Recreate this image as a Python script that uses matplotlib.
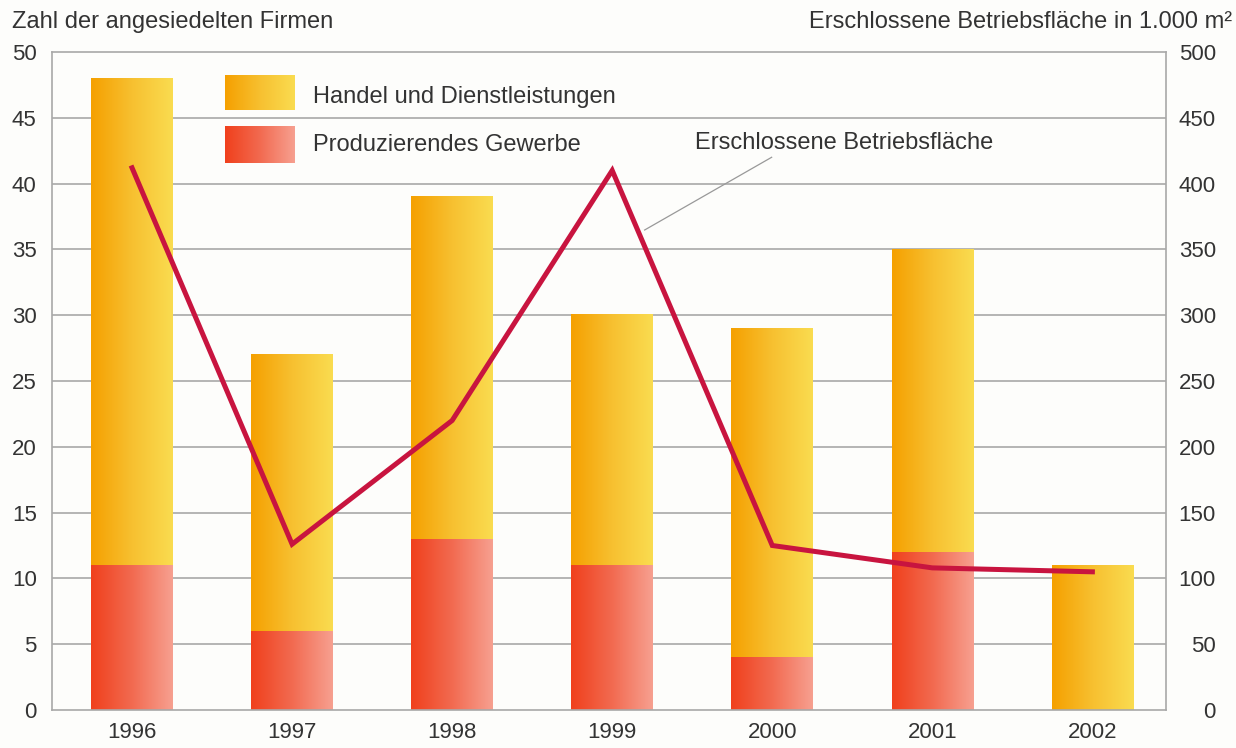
import numpy as np
import matplotlib
matplotlib.use("Agg")
import matplotlib.pyplot as plt
from matplotlib.colors import LinearSegmentedColormap
from matplotlib.lines import Line2D

plt.rcParams['font.family'] = ['Liberation Sans', 'DejaVu Sans']

years = ['1996', '1997', '1998', '1999', '2000', '2001', '2002']
produzierend = [11, 6, 13, 11, 4, 12, 0]
handel = [37, 21, 26, 19, 25, 23, 11]
flaeche = [412, 126, 220, 410, 125, 108, 105]

yticks_left = [0, 5, 10, 15, 20, 25, 30, 35, 40, 45, 50]
yticks_right = [0, 50, 100, 150, 200, 250, 300, 350, 400, 450, 500]

cm_yellow = LinearSegmentedColormap.from_list('y', ['#f5a000', '#f7c030', '#fadc50'])
cm_red = LinearSegmentedColormap.from_list('r', ['#f0401c', '#f26a50', '#f7a090'])
grad = np.linspace(0, 1, 256).reshape(1, -1)

fig = plt.figure(figsize=(12.36, 7.48), dpi=100)
fig.patch.set_facecolor('#fdfdfb')
ax = fig.add_axes([52/1236, 38/748, 1114/1236, 658/748])
ax.set_facecolor('#fdfdfb')

x = np.arange(len(years))
w = 0.51
for i in range(len(years)):
    if produzierend[i] > 0:
        ax.imshow(grad, cmap=cm_red, aspect='auto', zorder=2,
                  extent=[x[i] - w/2, x[i] + w/2, 0, produzierend[i]])
    ax.imshow(grad, cmap=cm_yellow, aspect='auto', zorder=2,
              extent=[x[i] - w/2, x[i] + w/2, produzierend[i], produzierend[i] + handel[i]])

ax.set_xlim(-0.5, 6.46)
ax.set_ylim(0, 50)
ax.set_yticks(yticks_left)
ax.set_xticks(x)
ax.set_xticklabels(years)
for yv in yticks_left[1:-1]:
    ax.axhline(yv, color='#a8a8a8', lw=1.2, zorder=1)
for s in ax.spines.values():
    s.set_color('#a8a8a8')
    s.set_linewidth(1.2)
ax.tick_params(axis='both', length=0, labelsize=16, colors='#333333')
ax.tick_params(axis='x', pad=9)
ax.tick_params(axis='y', pad=11)

ax2 = ax.twinx()
ax2.set_ylim(0, 500)
ax2.set_yticks(yticks_right)
ax2.tick_params(axis='y', length=0, labelsize=16, colors='#333333', pad=36)
for lab in ax2.get_yticklabels():
    lab.set_horizontalalignment('right')
for s in ax2.spines.values():
    s.set_visible(False)
ax2.plot(x, flaeche, color='#c8143f', lw=3.6, zorder=5, solid_joinstyle='miter')

# legend boxes
ax.imshow(grad, cmap=cm_yellow, aspect='auto', zorder=3, transform=ax.transAxes,
          extent=[0.1553, 0.2181, 0.912, 0.965])
ax.imshow(grad, cmap=cm_red, aspect='auto', zorder=3, transform=ax.transAxes,
          extent=[0.1553, 0.2181, 0.831, 0.886])
ax.set_xlim(-0.5, 6.46)
ax.set_ylim(0, 50)
ax.text(0.2343, 0.9316, 'Handel und Dienstleistungen', transform=ax.transAxes,
        fontsize=17, color='#333333', va='center', ha='left')
ax.text(0.2343, 0.8587, 'Produzierendes Gewerbe', transform=ax.transAxes,
        fontsize=17, color='#333333', va='center', ha='left')

ax2.text(0.577, 0.862, 'Erschlossene Betriebsfläche', transform=ax2.transAxes,
         fontsize=17, color='#333333', va='center', ha='left', zorder=6)
ax2.add_line(Line2D([0.532, 0.646], [0.7295, 0.840], transform=ax2.transAxes,
                    color='#999999', lw=0.9, zorder=6))

fig.text(12/1236, 1 - 22/748, 'Zahl der angesiedelten Firmen', fontsize=17,
         color='#333333', ha='left', va='center')
fig.text(1232/1236, 1 - 22/748, 'Erschlossene Betriebsfläche in 1.000 m²', fontsize=17,
         color='#333333', ha='right', va='center')

fig.savefig('out.png', dpi=100, facecolor=fig.get_facecolor())
